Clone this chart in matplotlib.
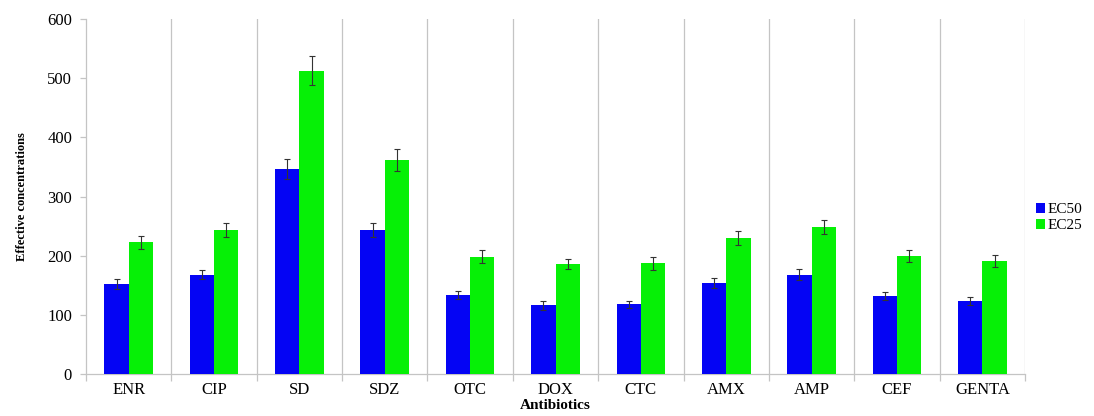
import matplotlib
matplotlib.use("Agg")
import matplotlib.pyplot as plt
import numpy as np

categories = ["ENR", "CIP", "SD", "SDZ", "OTC", "DOX", "CTC", "AMX", "AMP", "CEF", "GENTA"]
ec50 = [152, 168, 346, 244, 133, 116, 118, 154, 168, 132, 124]
ec50_err = [9, 8, 17, 12, 7, 7, 6, 8, 9, 7, 7]
ec25 = [223, 243, 513, 362, 198, 186, 187, 230, 248, 200, 191]
ec25_err = [11, 12, 24, 18, 11, 9, 11, 12, 12, 10, 10]
yticks = [0, 100, 200, 300, 400, 500, 600]

plt.rcParams["font.family"] = ["Liberation Serif", "DejaVu Serif"]

fig = plt.figure(figsize=(10.94, 4.16), dpi=100)
ax = fig.add_axes([0.0786, 0.101, 0.8584, 0.853])

x = np.arange(len(categories))
w = 0.285
grid_c = "#c4c4c4"
err_kw = dict(ecolor="#333333", elinewidth=0.8, capsize=2, capthick=0.8)

ax.bar(x - w / 2, ec50, w, yerr=ec50_err, color="#0404f4", label="EC50",
       error_kw=err_kw, zorder=3)
ax.bar(x + w / 2, ec25, w, yerr=ec25_err, color="#06f006", label="EC25",
       error_kw=err_kw, zorder=3)

# category separators
bounds = np.arange(len(categories) + 1) - 0.5
for b in bounds[1:]:
    ax.plot([b, b], [0, 600], color=grid_c, lw=0.9, zorder=1)

ax.set_xlim(-0.5, len(categories) - 0.5)
ax.set_ylim(0, 600)
ax.set_yticks(yticks)
ax.set_yticklabels([str(v) for v in yticks], fontsize=12)
ax.set_xticks(x)
ax.set_xticklabels(categories, fontsize=12)
ax.tick_params(axis="x", length=0, pad=6)
ax.set_xticks(bounds, minor=True)
ax.tick_params(axis="x", which="minor", length=5, color=grid_c, width=0.9)
ax.tick_params(axis="y", length=4, color=grid_c, width=0.9, pad=6)

for s in ["top", "right"]:
    ax.spines[s].set_visible(False)
for s in ["left", "bottom"]:
    ax.spines[s].set_color(grid_c)
    ax.spines[s].set_linewidth(0.9)

ax.set_ylabel("Effective concentrations", fontsize=9, fontweight="bold", labelpad=14)
ax.set_xlabel("Antibiotics", fontsize=11, fontweight="bold", labelpad=0.5)

ax.legend(loc="center left", bbox_to_anchor=(1.012, 0.44), frameon=False,
          fontsize=11, handlelength=0.55, handleheight=0.55, handletextpad=0.2,
          labelspacing=0.2, borderaxespad=0, borderpad=0)

fig.savefig("out.png", dpi=100)
